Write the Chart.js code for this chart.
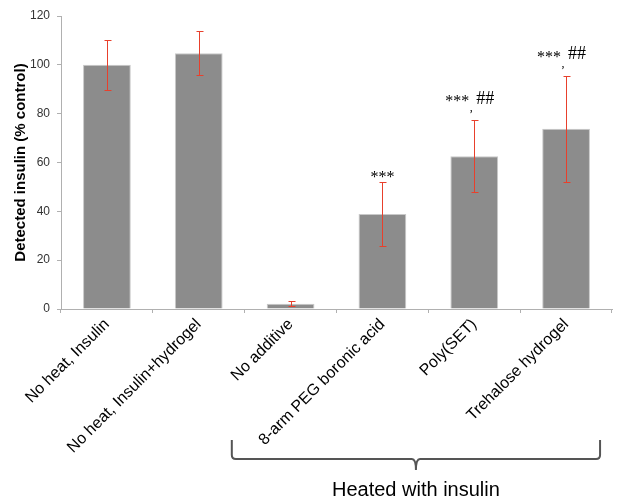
<!DOCTYPE html>
<html>
<head>
<meta charset="utf-8">
<script src="https://cdn.jsdelivr.net/npm/chart.js@4/dist/chart.umd.min.js"></script>
<style>
html,body{margin:0;padding:0;background:#fff;}
#wrap{position:relative;width:618px;height:497px;}
</style>
</head>
<body>
<div id="wrap"><canvas id="c" width="618" height="497"></canvas></div>
<script>
const categories = ['No heat, Insulin', 'No heat, Insulin+hydrogel', 'No additive', '8-arm PEG boronic acid', 'Poly(SET)', 'Trehalose hydrogel'];
const values = [100, 104.7, 2.2, 38.9, 62.6, 73.8];
const errors = [10.3, 9.0, 1.1, 13.1, 14.7, 21.8];
const significance = ['', '', '', '***', '***, ##', '***, ##'];
const yTicks = [0, 20, 40, 60, 80, 100, 120];
const groupLabel = 'Heated with insulin';
const groupFrom = 2, groupTo = 5;

const overlay = {
  id: 'overlay',
  afterDatasetsDraw(chart) {
    const ctx = chart.ctx;
    const y = chart.scales.y;
    const meta = chart.getDatasetMeta(0);
    ctx.save();
    ctx.strokeStyle = '#e8402c';
    ctx.lineWidth = 1;
    meta.data.forEach((bar, i) => {
      const cx = Math.round(bar.x) + 0.5;
      const top = Math.round(y.getPixelForValue(values[i] + errors[i])) + 0.5;
      const bot = Math.round(y.getPixelForValue(values[i] - errors[i])) + 0.5;
      ctx.beginPath();
      ctx.moveTo(cx, top); ctx.lineTo(cx, bot);
      ctx.moveTo(cx - 3, top); ctx.lineTo(cx + 4, top);
      ctx.moveTo(cx - 3, bot); ctx.lineTo(cx + 4, bot);
      ctx.stroke();
    });
    ctx.fillStyle = '#000';
    ctx.textBaseline = 'middle';
    meta.data.forEach((bar, i) => {
      const s = significance[i];
      if (!s) return;
      const top = y.getPixelForValue(values[i] + errors[i]);
      const parts = s.split(', ');
      if (parts.length === 1) {
        ctx.font = '16px "Liberation Serif", "Times New Roman", serif';
        ctx.textAlign = 'center';
        ctx.fillText(parts[0], bar.x, top - 4);
      } else {
        const ty = top - 21;
        ctx.font = '16px "Liberation Serif", "Times New Roman", serif';
        ctx.textAlign = 'right';
        ctx.fillText(parts[0], bar.x - 5, ty + 3);
        ctx.font = '18px "Liberation Serif", "Times New Roman", serif';
        ctx.textAlign = 'left';
        ctx.fillText(parts[1], bar.x + 2, ty);
        ctx.font = '12px "Liberation Serif", "Times New Roman", serif';
        ctx.textAlign = 'center';
        ctx.fillText(',', bar.x - 3, ty + 9);
      }
    });
    ctx.restore();
  },
  afterDraw(chart) {
    const ctx = chart.ctx;
    const x = chart.scales.x;
    const cw = (x.right - x.left) / categories.length;
    const l = x.getPixelForValue(groupFrom) - cw * 0.64;
    const r = x.getPixelForValue(groupTo) + cw * 0.37;
    const mid = (l + r) / 2;
    const yTop = 440, yLine = 459, yTip = 470;
    ctx.save();
    ctx.strokeStyle = '#555';
    ctx.lineWidth = 2;
    ctx.beginPath();
    ctx.moveTo(l, yTop);
    ctx.lineTo(l, yLine - 4);
    ctx.quadraticCurveTo(l, yLine, l + 4, yLine);
    ctx.lineTo(mid - 4, yLine);
    ctx.quadraticCurveTo(mid, yLine, mid, yTip);
    ctx.moveTo(mid, yTip);
    ctx.quadraticCurveTo(mid, yLine, mid + 4, yLine);
    ctx.lineTo(r - 4, yLine);
    ctx.quadraticCurveTo(r, yLine, r, yLine - 4);
    ctx.lineTo(r, yTop);
    ctx.stroke();
    ctx.fillStyle = '#000';
    ctx.font = '20px "Liberation Sans", Arial, sans-serif';
    ctx.textAlign = 'center';
    ctx.textBaseline = 'alphabetic';
    ctx.fillText(groupLabel, mid, 496);
    ctx.restore();
  }
};

new Chart(document.getElementById('c'), {
  type: 'bar',
  data: {
    labels: categories,
    datasets: [{
      data: values,
      backgroundColor: '#8c8c8c',
      borderColor: '#c9c9c9',
      borderWidth: 1,
      categoryPercentage: 1.0,
      barPercentage: 0.52
    }]
  },
  options: {
    responsive: false,
    animation: false,
    layout: { padding: { top: 16, right: 6, left: 12, bottom: 0 } },
    plugins: { legend: { display: false }, tooltip: { enabled: false } },
    scales: {
      x: {
        grid: { display: true, drawOnChartArea: false, tickLength: 4, color: '#b0b0b0', offset: true },
        border: { color: '#b0b0b0', width: 1 },
        ticks: {
          color: '#000',
          font: { family: '"Liberation Sans", Arial, sans-serif', size: 16 },
          minRotation: 45, maxRotation: 45, autoSkip: false, padding: 2
        },
        afterFit(scale) { scale.height = 188; }
      },
      y: {
        min: 0, max: 120,
        afterBuildTicks(scale) { scale.ticks = yTicks.map(v => ({ value: v })); },
        grid: { display: true, drawOnChartArea: false, tickLength: 4, color: '#b0b0b0' },
        border: { color: '#b0b0b0', width: 1 },
        ticks: {
          color: '#333',
          font: { family: '"Liberation Sans", Arial, sans-serif', size: 12 },
          padding: 7
        },
        title: {
          display: true,
          text: 'Detected insulin (% control)',
          color: '#000',
          font: { family: '"Liberation Sans", Arial, sans-serif', size: 15, weight: 'bold' },
          padding: { top: 0, bottom: 0 }
        },
        afterFit(scale) { scale.width = 49; }
      }
    }
  },
  plugins: [overlay]
});
</script>
</body>
</html>
